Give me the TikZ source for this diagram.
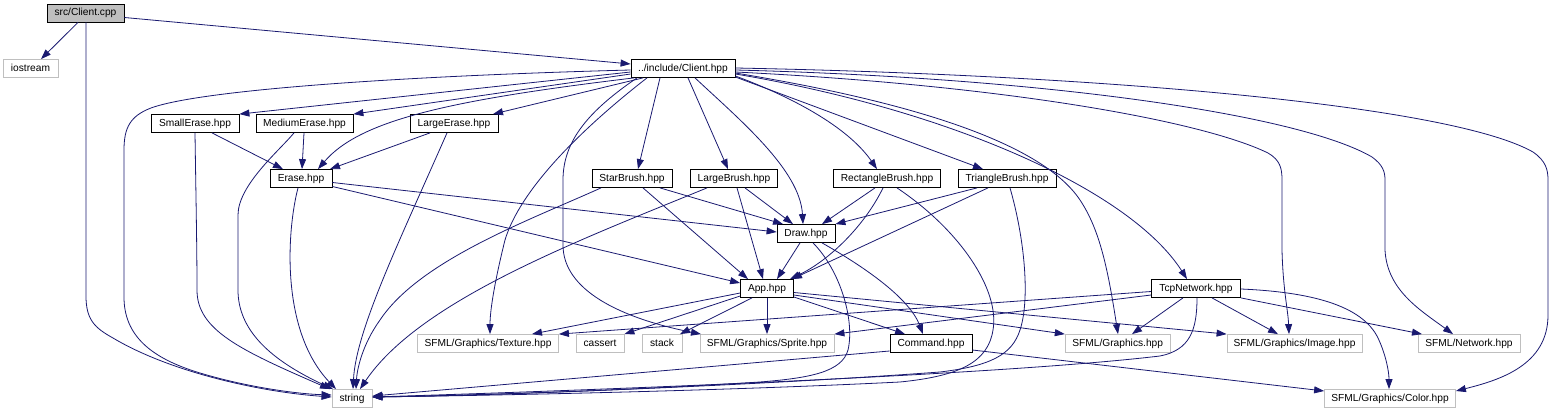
\documentclass[tikz,border=0pt]{standalone}
\usepackage{fontspec}
\setmainfont{Liberation Sans}
\usetikzlibrary{arrows.meta}
\definecolor{edgec}{HTML}{191970}
\definecolor{grayb}{HTML}{BFBFBF}
\tikzset{
 box/.style={draw=black, line width=0.8pt, rectangle, minimum height=18pt, inner sep=0pt,
   font=\fontsize{10.2}{12}\selectfont, text height=7.3pt, text depth=1.8pt},
 gbox/.style={box, draw=grayb},
 arr/.style={draw=edgec, line width=0.8pt, -{Triangle[length=10pt,width=7pt]}},
}
\begin{document}
\begin{tikzpicture}[x=1pt,y=-1pt]
\useasboundingbox (0,0) rectangle (1553,412);
% nodes
\node[box, fill=grayb, minimum width=77pt] (cpp) at (85.5,13) {src/Client.cpp};
\node[gbox, minimum width=55pt] (iost) at (30.5,68.5) {iostream};
\node[box, minimum width=104pt] (chpp) at (683,68.5) {../include/Client.hpp};
\node[box, minimum width=88pt] (serase) at (195,123.5) {SmallErase.hpp};
\node[box, minimum width=97pt] (merase) at (304.5,123.5) {MediumErase.hpp};
\node[box, minimum width=88pt] (lerase) at (454,123.5) {LargeErase.hpp};
\node[box, minimum width=62pt] (erase) at (301,178.5) {Erase.hpp};
\node[box, minimum width=80pt] (star) at (632,178.5) {StarBrush.hpp};
\node[box, minimum width=87pt] (lbrush) at (734,178.5) {LargeBrush.hpp};
\node[box, minimum width=107pt] (rect) at (887,178.5) {RectangleBrush.hpp};
\node[box, minimum width=98pt] (tri) at (1007,178.5) {TriangleBrush.hpp};
\node[box, minimum width=58pt] (drawh) at (806,233.5) {Draw.hpp};
\node[box, minimum width=53pt] (app) at (767,288.5) {App.hpp};
\node[box, minimum width=89pt] (tcp) at (1196,288.5) {TcpNetwork.hpp};
\node[gbox, minimum width=141pt] (tex) at (488,343.5) {SFML/Graphics/Texture.hpp};
\node[gbox, minimum width=48pt] (cassert) at (600,343.5) {cassert};
\node[gbox, minimum width=40pt] (stackn) at (662,343.5) {stack};
\node[gbox, minimum width=134pt] (sprite) at (767,343.5) {SFML/Graphics/Sprite.hpp};
\node[box, minimum width=82pt] (cmd) at (931,343.5) {Command.hpp};
\node[gbox, minimum width=105pt] (gfx) at (1117.7,343.5) {SFML/Graphics.hpp};
\node[gbox, minimum width=135pt] (img) at (1294.5,343.5) {SFML/Graphics/Image.hpp};
\node[gbox, minimum width=102pt] (net) at (1469,343.5) {SFML/Network.hpp};
\node[gbox, minimum width=40pt] (str) at (352,398.5) {string};
\node[gbox, minimum width=131pt] (color) at (1390,398.5) {SFML/Graphics/Color.hpp};
% src/Client.cpp
\path[arr] (cpp.south -| 78,0) -- (iost.north -| 41,0);
\path[arr] (cpp.east |- 0,17.5) -- (chpp.west |- 0,64);
\path[arr] (cpp.south -| 86,0) -- (86,296) .. controls (86,320) and (95,328) .. (113,338) .. controls (170,372) and (260,392) .. (str.west |- 0,397);
% ../include/Client.hpp
\path[arr] (chpp.west |- 0,70) .. controls (400,76) and (200,90) .. (151,108) .. controls (130,116) and (124,128) .. (124,150) -- (124,297) .. controls (124,335) and (150,358) .. (200,373) .. controls (250,388) and (300,394) .. (str.west |- 0,395);
\path[arr] (chpp.west |- 0,72) -- (serase.north east);
\path[arr] (chpp.west |- 0,74) -- (merase.north east);
\path[arr] (chpp.south -| 643,0) -- (lerase.north -| 493,0);
\path[arr] (chpp.south -| 634,0) .. controls (450,100) and (360,120) .. (erase.north -| 318,0);
\path[arr] (chpp.south -| 660,0) -- (star.north -| 638,0);
\path[arr] (chpp.south -| 688,0) -- (lbrush.north -| 728,0);
\path[arr] (chpp.south -| 695,0) .. controls (740,120) and (800,170) .. (drawh.north -| 803,0);
\path[arr] (chpp.east |- 0,76) .. controls (800,100) and (850,130) .. (rect.north -| 877,0);
\path[arr] (chpp.east |- 0,77) -- (tri.north -| 983,0);
\path[arr] (chpp.east |- 0,74) .. controls (950,110) and (1130,190) .. (tcp.north -| 1187,0);
\path[arr] (chpp.east |- 0,73) .. controls (900,100) and (1040,140) .. (1080,200) .. controls (1100,230) and (1108,270) .. (gfx.north -| 1118,0);
\path[arr] (chpp.east |- 0,72) .. controls (1000,85) and (1200,120) .. (1268,153) .. controls (1280,160) and (1282,168) .. (1282,180) -- (1282,250) .. controls (1283,290) and (1288,310) .. (img.north -| 1289,0);
\path[arr] (chpp.east |- 0,70) .. controls (1050,78) and (1300,115) .. (1372,157) .. controls (1383,165) and (1385,172) .. (1385,180) -- (1385,250) .. controls (1387,290) and (1420,310) .. (net.north -| 1453,0);
\path[arr] (chpp.east |- 0,68) .. controls (1100,75) and (1450,105) .. (1533,152) .. controls (1546,161) and (1548,170) .. (1548,180) -- (1548,315) .. controls (1548,365) and (1500,380) .. (color.east |- 0,391);
\path[arr] (chpp.south -| 647,0) .. controls (580,130) and (520,190) .. (505,240) .. controls (495,280) and (490,310) .. (tex.north -| 490,0);
\path[arr] (chpp.south -| 637,0) .. controls (590,110) and (563,140) .. (563,180) -- (563,245) .. controls (563,290) and (620,318) .. (sprite.north -| 701,0);
% erase family
\path[arr] (serase.south -| 212,0) -- (erase.north -| 283,0);
\path[arr] (serase.south -| 195,0) .. controls (196,200) and (197,250) .. (197,290) .. controls (197,330) and (240,350) .. (str.north -| 330,0);
\path[arr] (merase.south -| 304,0) -- (erase.north -| 302,0);
\path[arr] (merase.south -| 294,0) .. controls (280,150) and (238,185) .. (238,215) -- (238,290) .. controls (238,330) and (270,360) .. (str.north -| 333,0);
\path[arr] (lerase.south -| 430,0) -- (erase.north -| 330,0);
\path[arr] (lerase.south -| 447,0) .. controls (400,240) and (356,330) .. (str.north -| 353,0);
\path[arr] (erase.east |- 0,182.5) -- (drawh.west |- 0,232);
\path[arr] (erase.east |- 0,186.5) -- (app.west |- 0,283);
\path[arr] (erase.south -| 298,0) .. controls (287,230) and (280,330) .. (str.north -| 336,0);
% brushes
\path[arr] (star.south -| 660,0) -- (drawh.north -| 783,0);
\path[arr] (star.south -| 643,0) -- (app.north -| 748,0);
\path[arr] (star.south -| 601,0) .. controls (530,220) and (420,260) .. (380,320) .. controls (362,345) and (357,370) .. (str.north -| 356,0);
\path[arr] (lbrush.south -| 745,0) -- (drawh.north -| 793,0);
\path[arr] (lbrush.south -| 737,0) -- (app.north -| 763,0);
\path[arr] (lbrush.south -| 707,0) .. controls (580,240) and (420,300) .. (str.north -| 360,0);
\path[arr] (rect.south -| 875,0) -- (drawh.north -| 822,0);
\path[arr] (rect.south -| 883,0) .. controls (865,225) and (830,260) .. (app.north -| 790,0);
\path[arr] (rect.south -| 897,0) .. controls (960,230) and (1000,290) .. (993,330) .. controls (988,362) and (960,376) .. (900,382) .. controls (700,392) and (450,396) .. (str.east |- 0,397);
\path[arr] (tri.south -| 977,0) -- (drawh.north east);
\path[arr] (tri.south -| 988,0) -- (app.north -| 792,0);
\path[arr] (tri.south -| 1010,0) .. controls (1025,240) and (1030,300) .. (1020,330) .. controls (1012,355) and (990,366) .. (940,372) .. controls (750,386) and (500,395) .. (str.east |- 0,397);
% Draw
\path[arr] (drawh.south -| 800,0) -- (app.north -| 777,0);
\path[arr] (drawh.south -| 822,0) .. controls (870,270) and (910,300) .. (cmd.north -| 923,0);
\path[arr] (drawh.south -| 813,0) .. controls (840,270) and (855,320) .. (848,350) .. controls (842,372) and (810,378) .. (760,382) .. controls (600,392) and (450,396) .. (str.east |- 0,397);
% App
\path[arr] (app.west |- 0,293) -- (tex.north -| 532,0);
\path[arr] (app.west |- 0,296) -- (cassert.north east);
\path[arr] (app.south -| 752,0) -- (stackn.north -| 680,0);
\path[arr] (app.south) -- (sprite.north);
\path[arr] (app.east |- 0,297) -- (cmd.north -| 905,0);
\path[arr] (app.east |- 0,295) -- (gfx.north west);
\path[arr] (app.east |- 0,292.5) -- (img.north west);
% TcpNetwork
\path[arr] (tcp.west |- 0,291.5) -- (tex.north east);
\path[arr] (tcp.west |- 0,295) -- (sprite.north east);
\path[arr] (tcp.south -| 1183,0) -- (gfx.north -| 1132,0);
\path[arr] (tcp.south -| 1212,0) -- (img.north -| 1278,0);
\path[arr] (tcp.south east) -- (net.north -| 1422,0);
\path[arr] (tcp.east |- 0,289) .. controls (1310,292) and (1362,305) .. (1378,338) .. controls (1386,355) and (1389,372) .. (color.north -| 1389,0);
\path[arr] (tcp.south -| 1197,0) .. controls (1197,330) and (1190,350) .. (1160,356) .. controls (1000,375) and (600,390) .. (str.east |- 0,397);
% Command
\path[arr] (cmd.east |- 0,350) -- (color.west |- 0,391);
\path[arr] (cmd.west |- 0,351) -- (str.east |- 0,396);
\end{tikzpicture}
\end{document}
